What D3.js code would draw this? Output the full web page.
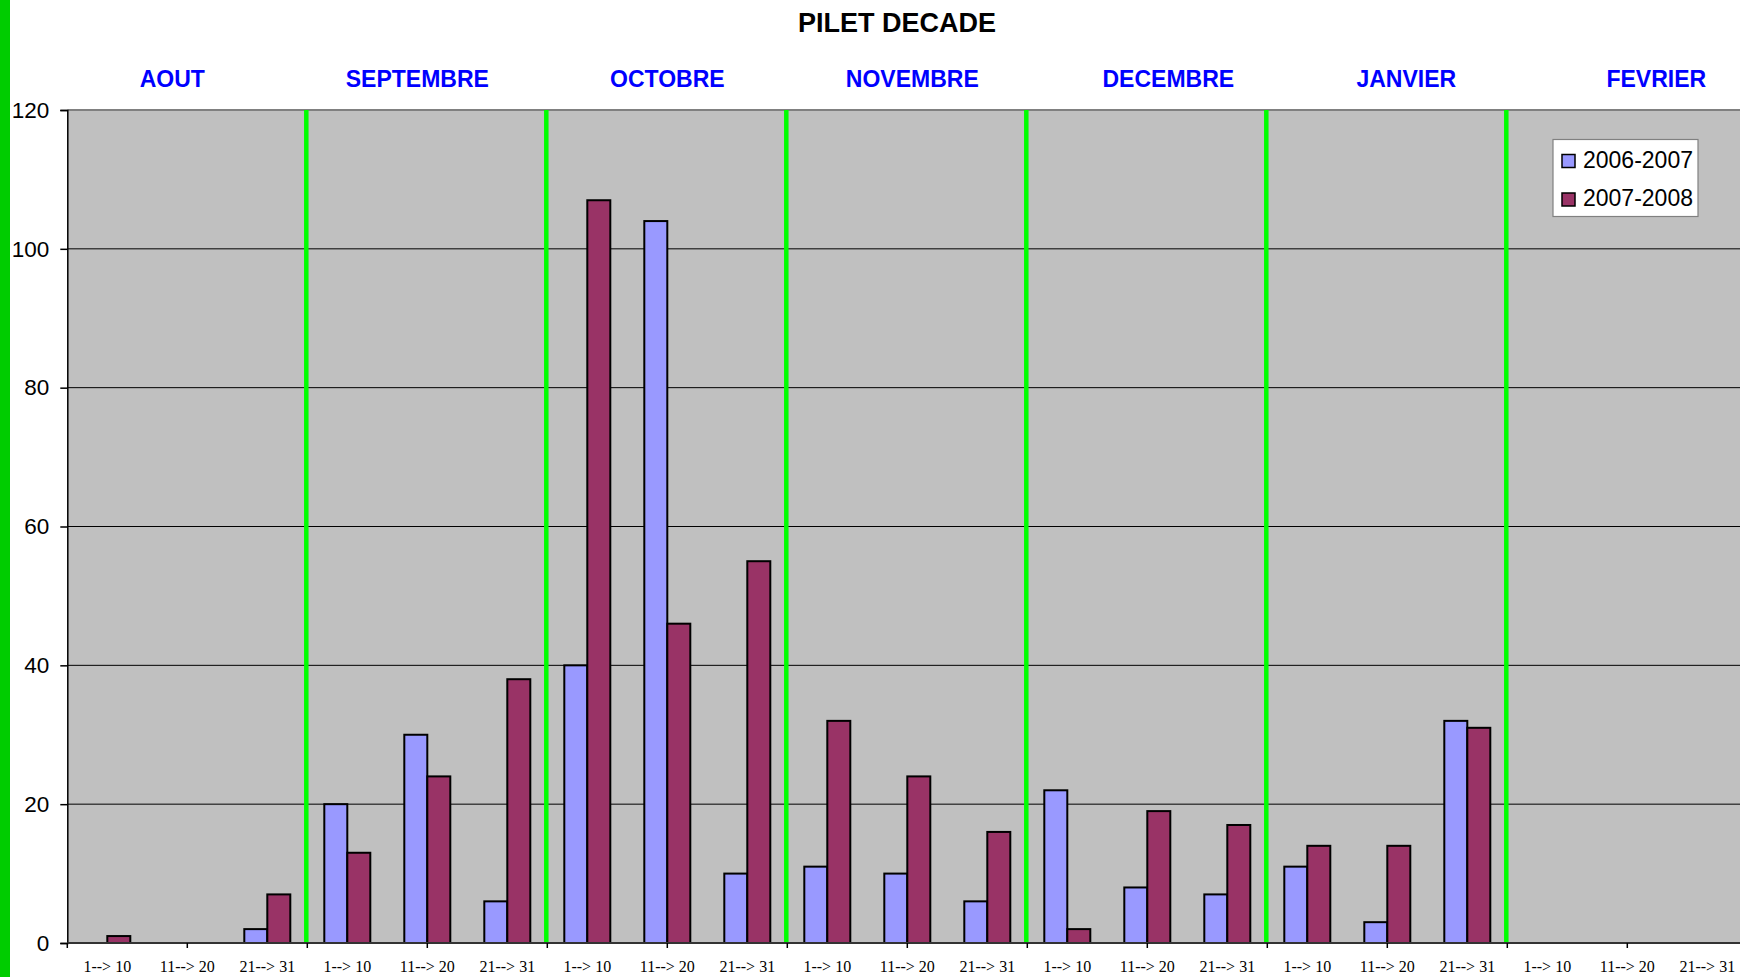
<!DOCTYPE html>
<html>
<head>
<meta charset="utf-8">
<script src="https://cdn.jsdelivr.net/npm/d3@7"></script>
<style>
  html, body { margin: 0; padding: 0; background: #fff; }
  svg { display: block; }
</style>
</head>
<body>
<div id="chart"></div>
<script>
const months = ['AOUT', 'SEPTEMBRE', 'OCTOBRE', 'NOVEMBRE', 'DECEMBRE', 'JANVIER', 'FEVRIER'];
const decades = ['1--> 10', '11--> 20', '21--> 31'];
const seriesNames = ['2006-2007', '2007-2008'];
const values0607 = [0, 0, 2, 20, 30, 6, 40, 104, 10, 11, 10, 6, 22, 8, 7, 11, 3, 32, 0, 0, 0];
const values0708 = [1, 0, 7, 13, 24, 38, 107, 46, 55, 32, 24, 16, 2, 19, 17, 14, 14, 31, 0, 0, 0];
const yTicks = [0, 20, 40, 60, 80, 100, 120];

const width = 1740, height = 977;
const plotLeft = 67.3, plotTop = 110, plotBottom = 943;
const catW = 80;
const colors = ['#9999ff', '#993366'];
// manual shifts of the month text boxes (as placed in the original sheet)
const monthShift = [-15, -10, 0, 5, 21, 19, 29];

const categories = [];
months.forEach((m, i) => decades.forEach((d, j) => categories.push({ key: m + '|' + d, month: i, label: d })));
const rows = categories.map((c, i) => ({ ...c, v: [values0607[i], values0708[i]] }));
const plotW = catW * categories.length;

const svg = d3.select('#chart').append('svg')
  .attr('width', width)
  .attr('height', height);

const x = d3.scaleBand()
  .domain(categories.map(c => c.key))
  .range([plotLeft, plotLeft + plotW]);
const xs = d3.scaleBand().domain(seriesNames).range([0, 46]);
const xLin = d3.scaleLinear().domain([0, categories.length]).range([plotLeft, plotLeft + plotW]);
const y = d3.scaleLinear().domain([0, 120]).range([plotBottom, plotTop]);

// left green strip
svg.append('rect').attr('x', 0).attr('y', 0).attr('width', 10).attr('height', height).attr('fill', '#00cc00');

// plot area
svg.append('rect')
  .attr('x', plotLeft).attr('y', plotTop)
  .attr('width', plotW).attr('height', plotBottom - plotTop)
  .attr('fill', '#c0c0c0');

// gridlines
svg.append('g').selectAll('line')
  .data(yTicks.filter(t => t > 0))
  .join('line')
  .attr('x1', plotLeft).attr('x2', plotLeft + plotW)
  .attr('y1', d => y(d)).attr('y2', d => y(d))
  .attr('stroke', d => d === 120 ? '#808080' : '#000')
  .attr('stroke-width', d => d === 120 ? 2 : 1);

// month separators
svg.append('g').selectAll('line')
  .data(d3.range(1, months.length))
  .join('line')
  .attr('x1', d => xLin(d * 3) - 1).attr('x2', d => xLin(d * 3) - 1)
  .attr('y1', plotTop).attr('y2', plotBottom)
  .attr('stroke', '#00ff00')
  .attr('stroke-width', 4.5);

// bars
const groups = svg.append('g').selectAll('g')
  .data(rows)
  .join('g')
  .attr('transform', d => `translate(${x(d.key) + x.bandwidth() / 2 - 23},0)`);
groups.selectAll('rect')
  .data(d => d.v.map((v, i) => ({ s: seriesNames[i], v, i })).filter(e => e.v > 0))
  .join('rect')
  .attr('x', e => xs(e.s))
  .attr('width', xs.bandwidth())
  .attr('y', e => y(e.v))
  .attr('height', e => y(0) - y(e.v))
  .attr('fill', e => colors[e.i])
  .attr('stroke', '#000')
  .attr('stroke-width', 2);

// y axis
const yAxis = svg.append('g')
  .attr('transform', `translate(${plotLeft},0)`)
  .call(d3.axisLeft(y).tickValues(yTicks).tickSize(7).tickPadding(11));
yAxis.select('.domain').attr('stroke', '#000').attr('stroke-width', 1.5);
yAxis.selectAll('.tick line').attr('stroke', '#000').attr('stroke-width', 1.5);
yAxis.selectAll('.tick text')
  .attr('font-family', 'Liberation Sans, Arial, sans-serif')
  .attr('font-size', 22.5)
  .attr('fill', '#000');

// x axis line + ticks every 1.5 categories
svg.append('line')
  .attr('x1', plotLeft).attr('x2', plotLeft + plotW)
  .attr('y1', plotBottom).attr('y2', plotBottom)
  .attr('stroke', '#333').attr('stroke-width', 2);
svg.append('g').selectAll('line')
  .data(d3.range(0, categories.length + 0.01, 1.5))
  .join('line')
  .attr('x1', d => xLin(d)).attr('x2', d => xLin(d))
  .attr('y1', plotBottom).attr('y2', plotBottom + 5)
  .attr('stroke', '#000').attr('stroke-width', 1.5);

// x labels
svg.append('g').selectAll('text')
  .data(rows)
  .join('text')
  .attr('x', d => x(d.key) + x.bandwidth() / 2)
  .attr('y', 972)
  .attr('text-anchor', 'middle')
  .attr('font-family', 'Liberation Serif, Times New Roman, serif')
  .attr('font-size', 16)
  .attr('fill', '#000')
  .text(d => d.label);

// title
svg.append('text')
  .attr('x', 897).attr('y', 32)
  .attr('text-anchor', 'middle')
  .attr('font-family', 'Liberation Sans, Arial, sans-serif')
  .attr('font-weight', 'bold')
  .attr('font-size', 27)
  .attr('fill', '#000')
  .text('PILET DECADE');

// month labels
svg.append('g').selectAll('text')
  .data(months)
  .join('text')
  .attr('x', (d, i) => xLin(i * 3 + 1.5) + monthShift[i])
  .attr('y', 87)
  .attr('text-anchor', 'middle')
  .attr('font-family', 'Liberation Sans, Arial, sans-serif')
  .attr('font-weight', 'bold')
  .attr('font-size', 23)
  .attr('fill', '#0000ff')
  .text(d => d);

// legend
const legend = svg.append('g').attr('transform', 'translate(1553,139.5)');
legend.append('rect')
  .attr('width', 145).attr('height', 77)
  .attr('fill', '#fff').attr('stroke', '#808080').attr('stroke-width', 1.2);
const li = legend.selectAll('g.item')
  .data(seriesNames)
  .join('g')
  .attr('class', 'item')
  .attr('transform', (d, i) => `translate(9,${15 + i * 38.5})`);
li.append('rect')
  .attr('width', 13).attr('height', 13)
  .attr('fill', (d, i) => colors[i])
  .attr('stroke', '#000').attr('stroke-width', 1.5);
li.append('text')
  .attr('x', 21).attr('y', 13)
  .attr('font-family', 'Liberation Sans, Arial, sans-serif')
  .attr('font-size', 23)
  .attr('fill', '#000')
  .text(d => d);
</script>
</body>
</html>
